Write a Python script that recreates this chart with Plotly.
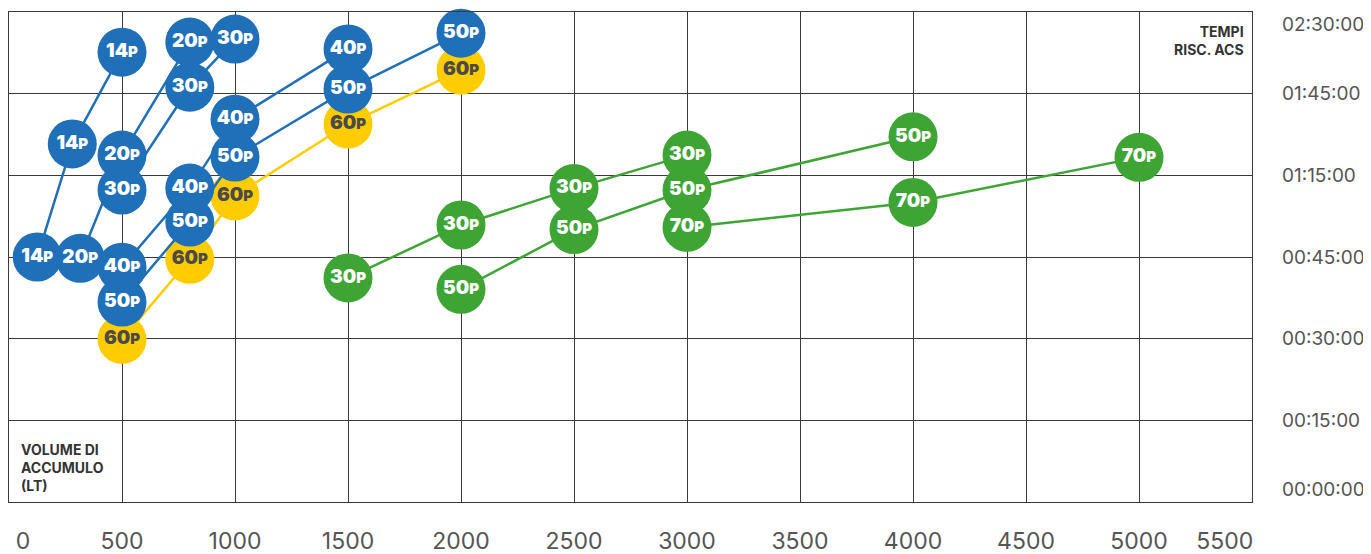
import plotly.graph_objects as go

# ---- data (x: volume di accumulo in litri, y: posizione sull'asse tempi 0..150) ----
y_tick_vals = [0, 25, 50, 75, 100, 125, 150]
y_tick_text = ["00:00:00", "00:15:00", "00:30:00", "00:45:00", "01:15:00", "01:45:00", "02:30:00"]
x_tick_vals = [0, 500, 1000, 1500, 2000, 2500, 3000, 3500, 4000, 4500, 5000, 5500]

# yellow series
y60_x = [500, 800, 1000, 1500, 2000]
y60_y = [49.8, 74.3, 93.7, 115.7, 132.2]

# blue series
b14_x = [125, 280, 500]
b14_y = [75.0, 109.6, 137.7]
b20_x = [315, 500, 800]
b20_y = [74.6, 106.2, 140.8]
b30_x = [500, 800, 1000]
b30_y = [95.5, 127.0, 141.7]
b40_x = [500, 800, 1000, 1500]
b40_y = [71.9, 96.1, 117.2, 138.7]
b50_x = [500, 800, 1000, 1500, 2000]
b50_y = [61.2, 85.7, 105.6, 126.4, 143.5]

# green series
g30_x = [1500, 2000, 2500, 3000]
g30_y = [68.6, 84.8, 96.0, 106.2]
g50_x = [2000, 2500, 3000, 4000]
g50_y = [65.1, 83.4, 95.5, 111.8]
g70_x = [3000, 4000, 5000]
g70_y = [84.1, 91.7, 105.5]

BLUE = "#1f70b8"
YELLOW = "#ffcc00"
GREEN = "#3ea535"

def lab(n):
    return f"{n}<span style='font-size:15px'>P</span>"

def add(fig, xs, ys, n, color, tcolor):
    fig.add_trace(go.Scatter(
        x=xs, y=ys, mode="lines+markers+text",
        line=dict(color=color, width=2.5),
        marker=dict(size=49, color=color, line=dict(width=0)),
        text=[lab(n)] * len(xs), textposition="middle center",
        textfont=dict(family="Inter, Roboto, sans-serif", size=19, color=tcolor, weight=900),
        hoverinfo="skip", showlegend=False, cliponaxis=False,
    ))

fig = go.Figure()
add(fig, y60_x, y60_y, 60, YELLOW, "#4a4a4a")
add(fig, b14_x, b14_y, 14, BLUE, "white")
add(fig, b20_x, b20_y, 20, BLUE, "white")
add(fig, b30_x, b30_y, 30, BLUE, "white")
add(fig, b40_x, b40_y, 40, BLUE, "white")
add(fig, b50_x, b50_y, 50, BLUE, "white")
add(fig, g30_x, g30_y, 30, GREEN, "white")
add(fig, g50_x, g50_y, 50, GREEN, "white")
add(fig, g70_x, g70_y, 70, GREEN, "white")
# empty trace so the overlay axis (carrying the "0" label) is drawn
fig.add_trace(go.Scatter(x=[], y=[], xaxis="x2", yaxis="y", showlegend=False, hoverinfo="skip"))

# tick label text (edge labels nudged inward like in the reference)
main_x_vals = x_tick_vals[1:]
main_x_text = [str(v) for v in main_x_vals]
main_x_text[-1] = main_x_text[-1] + "\u2002\u2002\u2002\u2002\u2009\u2009"
y_tick_disp = list(y_tick_text)
y_tick_disp[-1] = "\u00a0<br>" + y_tick_disp[-1]
y_tick_disp[0] = y_tick_disp[0] + "<br>\u00a0"

grid = "#3a3a3a"
tick_font = dict(family="Inter, Roboto, sans-serif", size=23, color="#555555")
fig.update_layout(
    xaxis=dict(
        range=[0, 5500], tickvals=main_x_vals, ticktext=main_x_text,
        showgrid=True, gridcolor=grid, gridwidth=1.3, zeroline=False,
        showline=True, linecolor=grid, linewidth=1.3, mirror=True,
        ticks="outside", ticklen=18, tickcolor="rgba(0,0,0,0)", automargin=False,
        ticklabeloverflow="allow", tickfont=tick_font,
    ),
    xaxis2=dict(
        range=[0, 5500], overlaying="x", anchor="y", side="bottom",
        tickvals=[x_tick_vals[0]], ticktext=[str(x_tick_vals[0])],
        showgrid=False, zeroline=False, showline=False,
        ticks="outside", ticklen=18, tickcolor="rgba(0,0,0,0)", automargin=False,
        ticklabelshift=14, ticklabeloverflow="allow", tickfont=tick_font,
    ),
    yaxis=dict(
        range=[0, 150], tickvals=y_tick_vals, ticktext=y_tick_disp, side="right",
        showgrid=True, gridcolor=grid, gridwidth=1.3, zeroline=False,
        showline=True, linecolor=grid, linewidth=1.3, mirror=True,
        ticks="outside", ticklen=25, tickcolor="rgba(0,0,0,0)", automargin=False,
        ticklabeloverflow="allow",
        tickfont=dict(family="Inter, Roboto, sans-serif", size=19, color="#555555"),
    ),
)

fig.add_annotation(
    xref="paper", yref="paper", x=0.995, y=0.982, xanchor="right", yanchor="top",
    text="<b>TEMPI<br>RISC. ACS</b>", showarrow=False, align="right",
    font=dict(family="Inter, Roboto, sans-serif", size=14, color="#333333"),
)
fig.add_annotation(
    xref="paper", yref="paper", x=0.008, y=0.012, xanchor="left", yanchor="bottom",
    text="<b>VOLUME DI<br>ACCUMULO<br>(LT)</b>", showarrow=False, align="left",
    font=dict(family="Inter, Roboto, sans-serif", size=14, color="#333333"),
)

# page body has an 8px margin: size the figure so the plot lands where the reference has it
fig.update_layout(
    width=1363, height=546,
    margin=dict(l=1, r=119, t=4, b=52),
    paper_bgcolor="white", plot_bgcolor="white",
)

fig.write_html("out.html")
